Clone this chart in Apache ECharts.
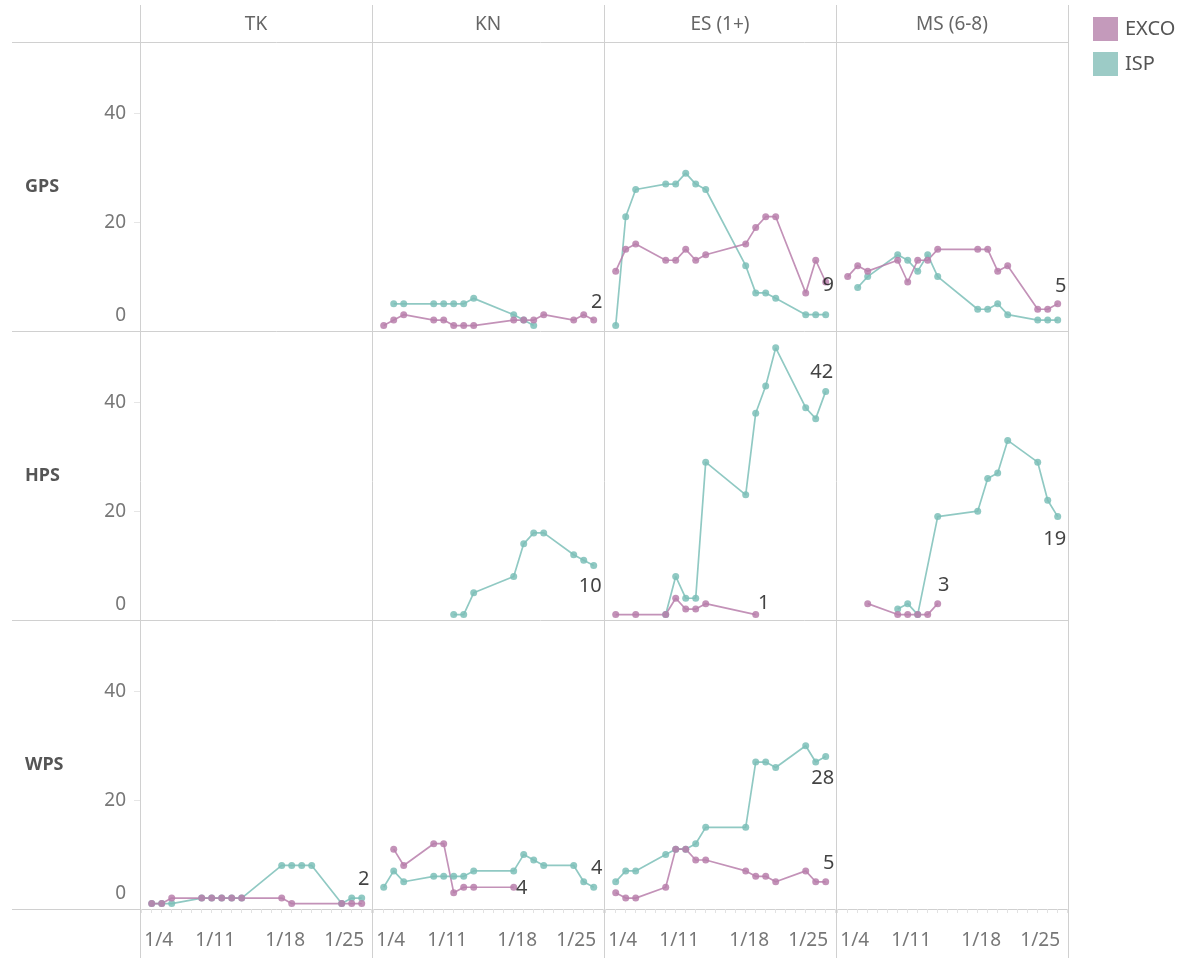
<!DOCTYPE html>
<html>
<head>
<meta charset="utf-8">
<title>EXCO / ISP</title>
<script src="https://cdn.jsdelivr.net/npm/echarts@6.0.0/dist/echarts.min.js"></script>
<style>
  html, body { margin: 0; padding: 0; background: #fff; }
  #chart { width: 1188px; height: 958px; }
</style>
</head>
<body>
<div id="chart"></div>
<script>
// school days of january (day of month)
var days = [5, 6, 7, 10, 11, 12, 13, 14, 18, 19, 20, 21, 24, 25, 26]
var columns = ['TK', 'KN', 'ES (1+)', 'MS (6-8)']
var rows = ['GPS', 'HPS', 'WPS']
var tickDays = [4, 11, 18, 25]
var yTicks = [0, 20, 40]

// GPS
var gpsKnExco = [1, 2, 3, 2, 2, 1, 1, 1, 2, 2, 2, 3, 2, 3, 2]
var gpsKnIsp = [null, 5, 5, 5, 5, 5, 5, 6, 3, 2, 1, null, null, null, null]
var gpsEsExco = [11, 15, 16, 13, 13, 15, 13, 14, 16, 19, 21, 21, 7, 13, 9]
var gpsEsIsp = [1, 21, 26, 27, 27, 29, 27, 26, 12, 7, 7, 6, 3, 3, 3]
var gpsMsExco = [10, 12, 11, 13, 9, 13, 13, 15, 15, 15, 11, 12, 4, 4, 5]
var gpsMsIsp = [null, 8, 10, 14, 13, 11, 14, 10, 4, 4, 5, 3, 2, 2, 2]
// HPS
var hpsKnIsp = [null, null, null, null, null, 1, 1, 5, 8, 14, 16, 16, 12, 11, 10]
var hpsEsExco = [1, null, 1, 1, 4, 2, 2, 3, null, 1, null, null, null, null, null]
var hpsEsIsp = [null, null, null, 1, 8, 4, 4, 29, 23, 38, 43, 50, 39, 37, 42]
var hpsMsExco = [null, null, 3, 1, 1, 1, 1, 3, null, null, null, null, null, null, null]
var hpsMsIsp = [null, null, null, 2, 3, 1, null, 19, 20, 26, 27, 33, 29, 22, 19]
// WPS
var wpsTkExco = [1, 1, 2, 2, 2, 2, 2, 2, 2, 1, null, null, 1, 1, 1]
var wpsTkIsp = [1, 1, 1, 2, 2, 2, 2, 2, 8, 8, 8, 8, 1, 2, 2]
var wpsKnExco = [null, 11, 8, 12, 12, 3, 4, 4, 4, null, null, null, null, null, null]
var wpsKnIsp = [4, 7, 5, 6, 6, 6, 6, 7, 7, 10, 9, 8, 8, 5, 4]
var wpsEsExco = [3, 2, 2, 4, 11, 11, 9, 9, 7, 6, 6, 5, 7, 5, 5]
var wpsEsIsp = [5, 7, 7, 10, 11, 11, 12, 15, 15, 27, 27, 26, 30, 27, 28]

// panel -> series, label = offset of the end label from its point
var panels = [
  { row: 0, col: 1, name: 'ISP', values: gpsKnIsp },
  { row: 0, col: 1, name: 'EXCO', values: gpsKnExco, label: [3, -18] },
  { row: 0, col: 2, name: 'ISP', values: gpsEsIsp },
  { row: 0, col: 2, name: 'EXCO', values: gpsEsExco, label: [2.5, 3] },
  { row: 0, col: 3, name: 'ISP', values: gpsMsIsp },
  { row: 0, col: 3, name: 'EXCO', values: gpsMsExco, label: [3, -17] },
  { row: 1, col: 1, name: 'ISP', values: hpsKnIsp, label: [-3.5, 21] },
  { row: 1, col: 2, name: 'ISP', values: hpsEsIsp, label: [-4, -19] },
  { row: 1, col: 2, name: 'EXCO', values: hpsEsExco, label: [8, -11] },
  { row: 1, col: 3, name: 'ISP', values: hpsMsIsp, label: [-3, 23] },
  { row: 1, col: 3, name: 'EXCO', values: hpsMsExco, label: [6, -18] },
  { row: 2, col: 0, name: 'ISP', values: wpsTkIsp, label: [2, -18.5] },
  { row: 2, col: 0, name: 'EXCO', values: wpsTkExco },
  { row: 2, col: 1, name: 'ISP', values: wpsKnIsp, label: [3, -19] },
  { row: 2, col: 1, name: 'EXCO', values: wpsKnExco, label: [8, 1] },
  { row: 2, col: 2, name: 'ISP', values: wpsEsIsp, label: [-3, 22] },
  { row: 2, col: 2, name: 'EXCO', values: wpsEsExco, label: [3, -18] }
]

var FONT = 'Noto Sans'
var colors = { EXCO: '#b87fac', ISP: '#7cc0b8' }
var LEFT = 140
var TOP = 42
var COL_W = 232
var ROW_H = 289
var X_MIN = 3.83
var X_MAX = 27.03
var Y_MAX = 53.1
var lineColor = '#d0d0d0'

var grids = []
var xAxes = []
var yAxes = []
var dailyTicks = []
for (var d = 4; d <= 27; d++) dailyTicks.push(d)

function labelStyle(pad) {
  return { fontSize: 19, color: '#777', fontFamily: FONT, padding: pad }
}

rows.forEach(function(r, ri) {
  columns.forEach(function(c, ci) {
    grids.push({ left: LEFT + ci * COL_W, top: TOP + ri * ROW_H, width: COL_W, height: ROW_H })
    var bottom = ri === rows.length - 1
    xAxes.push({
      type: 'value',
      gridIndex: grids.length - 1,
      min: X_MIN,
      max: X_MAX,
      axisLine: { show: false },
      splitLine: { show: false },
      axisTick: {
        show: bottom,
        customValues: dailyTicks,
        length: 4,
        lineStyle: { color: '#e2e2e2' }
      },
      axisLabel: {
        show: bottom,
        customValues: tickDays,
        margin: 22,
        formatter: function(v) {
          var t = '1/' + v
          if (v === tickDays[0]) return '{a|' + t + '}'
          if (v === tickDays[tickDays.length - 1]) return '{z|' + t + '}'
          return '{m|' + t + '}'
        },
        rich: {
          a: labelStyle([0, 0, 0, 34]),
          m: labelStyle([0, 0, 0, 7]),
          z: labelStyle([0, 15, 0, 0])
        }
      }
    })
    yAxes.push({
      type: 'value',
      gridIndex: grids.length - 1,
      min: 0,
      max: Y_MAX,
      axisLine: { show: false },
      splitLine: { show: false },
      axisTick: {
        show: ci === 0,
        customValues: yTicks.slice(1),
        length: 6,
        lineStyle: { color: '#e6e6e6' }
      },
      axisLabel: {
        show: ci === 0,
        customValues: yTicks,
        margin: 14,
        formatter: function(v) {
          return v === 0 ? '{b|0}' : '{n|' + v + '}'
        },
        rich: {
          b: labelStyle([0, 0, 30, 0]),
          n: labelStyle([0, 0, 0, 0])
        }
      }
    })
  })
})

var series = panels.map(function(p) {
  var idx = p.row * columns.length + p.col
  var pts = []
  p.values.forEach(function(v, i) {
    if (v !== null) pts.push({ value: [days[i], v] })
  })
  if (p.label) {
    pts[pts.length - 1].label = {
      show: true,
      position: 'inside',
      offset: p.label,
      fontSize: 20,
      color: '#222',
      fontFamily: FONT,
      formatter: function(o) { return o.value[1] }
    }
  }
  return {
    name: p.name,
    type: 'line',
    xAxisIndex: idx,
    yAxisIndex: idx,
    data: pts,
    symbol: 'circle',
    symbolSize: 7,
    color: colors[p.name],
    lineStyle: { width: 1.7, color: colors[p.name], opacity: 0.85 },
    itemStyle: { color: colors[p.name], opacity: 0.85 },
    label: { show: false },
    emphasis: { disabled: true },
    z: 3
  }
})

// frame and headers
var graphics = []
var xs = [0, 1, 2, 3, 4].map(function(i) { return LEFT + i * COL_W })
var ys = [0, 1, 2, 3].map(function(i) { return TOP + i * ROW_H })
xs.forEach(function(x) {
  graphics.push({ type: 'line', shape: { x1: x + 0.5, y1: 5, x2: x + 0.5, y2: 958 }, style: { stroke: lineColor, lineWidth: 1 }, silent: true })
})
ys.forEach(function(y) {
  graphics.push({ type: 'line', shape: { x1: 12, y1: y + 0.5, x2: xs[4] + 1, y2: y + 0.5 }, style: { stroke: lineColor, lineWidth: 1 }, silent: true })
})
columns.forEach(function(c, ci) {
  graphics.push({
    type: 'text', x: LEFT + ci * COL_W + COL_W / 2, y: 25, silent: true,
    style: { text: c, fill: '#666', fontSize: 19, fontFamily: FONT, align: 'center', verticalAlign: 'middle' }
  })
})
rows.forEach(function(r, ri) {
  graphics.push({
    type: 'text', x: 25, y: TOP + ri * ROW_H + ROW_H / 2, silent: true,
    style: { text: r, fill: '#555', fontSize: 18, fontWeight: 'bold', fontFamily: FONT, align: 'left', verticalAlign: 'middle' }
  })
})

var chart = echarts.init(document.getElementById('chart'))
chart.setOption({
  animation: false,
  legend: {
    data: [
      { name: 'EXCO', itemStyle: { color: '#c49abb', opacity: 1 } },
      { name: 'ISP', itemStyle: { color: '#9ccbc6', opacity: 1 } }
    ],
    orient: 'vertical',
    left: 1088,
    top: 12,
    icon: 'rect',
    itemWidth: 25,
    itemHeight: 24,
    itemGap: 11,
    selectedMode: false,
    textStyle: { fontSize: 20, color: '#555', fontFamily: FONT, padding: [0, 0, 0, 2] }
  },
  grid: grids,
  xAxis: xAxes,
  yAxis: yAxes,
  series: series,
  graphic: graphics
})
</script>
</body>
</html>
